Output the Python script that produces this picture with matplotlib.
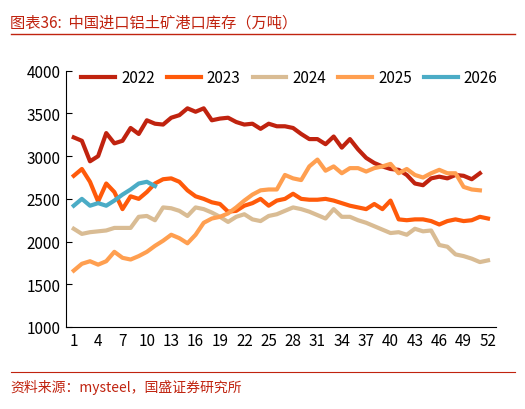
import matplotlib
matplotlib.use("Agg")
import matplotlib.pyplot as plt

y2022 = [3220,3180,2940,3000,3270,3150,3180,3330,3260,3420,3380,3370,3450,3480,3560,3520,3560,3420,3440,3450,3400,3370,3380,3320,3380,3350,3350,3330,3260,3200,3200,3140,3230,3100,3200,3080,2980,2920,2880,2850,2840,2780,2680,2660,2740,2760,2740,2780,2770,2730,2800]
y2023 = [2770,2850,2700,2470,2680,2580,2380,2530,2500,2580,2680,2730,2740,2700,2600,2530,2500,2460,2440,2350,2360,2420,2450,2500,2420,2480,2500,2560,2500,2490,2490,2500,2480,2450,2420,2400,2380,2440,2380,2480,2260,2250,2260,2260,2240,2200,2240,2260,2240,2250,2290,2270]
y2024 = [2150,2090,2110,2120,2130,2160,2160,2160,2290,2300,2250,2400,2390,2360,2300,2400,2380,2340,2290,2230,2290,2320,2260,2240,2300,2320,2360,2400,2380,2350,2310,2270,2380,2290,2290,2250,2220,2180,2140,2100,2110,2080,2150,2120,2130,1960,1940,1850,1830,1800,1760,1780]
y2025 = [1660,1740,1770,1730,1770,1880,1810,1790,1830,1880,1950,2010,2080,2040,1980,2080,2220,2270,2290,2330,2400,2480,2550,2600,2610,2610,2780,2740,2720,2880,2960,2830,2880,2800,2860,2860,2820,2860,2880,2910,2800,2850,2780,2750,2800,2840,2800,2800,2640,2610,2600]
y2026 = [2420,2500,2420,2450,2420,2480,2550,2610,2680,2700,2650]
series = {"2022": y2022, "2023": y2023, "2024": y2024, "2025": y2025, "2026": y2026}
colors = {"2022": "#C0230F", "2023": "#FF5A0A", "2024": "#D9BC94", "2025": "#FF9F50", "2026": "#4BACC6"}
xticks = list(range(1, 53, 3))

plt.rcParams['font.family'] = ['Noto Sans CJK SC', 'DejaVu Sans']
fig = plt.figure(figsize=(5.25, 4.10), dpi=100)
ax = fig.add_axes([0.125, 0.2, 0.82, 0.625])
for k, v in series.items():
    ax.plot(range(1, len(v)+1), v, color=colors[k], lw=3, label=k)
ax.set_ylim(1000, 4000)
ax.set_yticks(range(1000, 4001, 500))
ax.set_xlim(0, 53)
ax.set_xticks(xticks)
ax.tick_params(labelsize=11, direction='in', length=4)
ax.tick_params(axis='x', length=0)
for s in ['top', 'right']:
    ax.spines[s].set_visible(False)
ax.legend(ncol=5, loc='upper center', bbox_to_anchor=(0.52, 1.06), frameon=False,
          fontsize=11, handlelength=2.2, columnspacing=0.8, handletextpad=0.4)
fig.text(0.02, 0.965, "图表36:  中国进口铝土矿港口库存（万吨）", fontsize=11, color="#C0230F", style='italic', va='top')
fig.lines.append(plt.Line2D([0.02, 0.98], [0.915, 0.915], transform=fig.transFigure, color="#C0230F", lw=1))
fig.text(0.02, 0.045, "资料来源：mysteel，国盛证券研究所", fontsize=10, color="#C0230F", style='italic')
fig.lines.append(plt.Line2D([0.02, 0.98], [0.09, 0.09], transform=fig.transFigure, color="#C0230F", lw=0.8))
fig.savefig("out.png", dpi=100)
